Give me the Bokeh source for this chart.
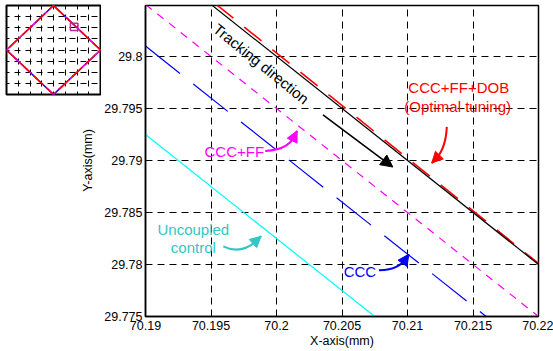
import math
from bokeh.plotting import figure
from bokeh.models import FixedTicker, Label, Arrow, NormalHead, Range1d, Grid
from bokeh.layouts import row, column
from bokeh.embed import file_html
from bokeh.resources import INLINE

# ---------------- data ----------------
x_ticks = [70.19, 70.195, 70.2, 70.205, 70.21, 70.215, 70.22]
x_tick_labels = ["70.19", "70.195", "70.2", "70.205", "70.21", "70.215", "70.22"]
y_ticks = [29.775, 29.78, 29.785, 29.79, 29.795, 29.8]
y_tick_labels = ["29.775", "29.78", "29.785", "29.79", "29.795", "29.8"]

reference_x = [70.195, 70.22]
reference_y = [29.805, 29.78]
dob_x = [70.1954, 70.22]
dob_y = [29.805, 29.7801]
ff_x = [70.19, 70.22]
ff_y = [29.805, 29.775]
ccc_x = [70.19, 70.216]
ccc_y = [29.801, 29.775]
uncoupled_x = [70.19, 70.2075]
uncoupled_y = [29.7925, 29.775]

inset_path_x = [50, 100, 50, 0, 50]
inset_path_y = [100, 50, 0, 50, 100]
inset_box_x = [72]
inset_box_y = [76]
inset_box_size = [8]
inset_ticks = [0, 12.5, 25, 37.5, 50, 62.5, 75, 87.5, 100]

FONT = "Liberation Sans"
RED = "#ff0000"
BLUE = "#0000ff"
MAGENTA = "#ff00ff"
CYAN = "#00ffff"
TEAL = "#33c6c6"

# ---------------- main figure ----------------
p = figure(width=452, height=351,
           x_range=Range1d(70.19, 70.22), y_range=Range1d(29.775, 29.8049),
           output_backend="svg", toolbar_location=None,
           min_border_left=43, min_border_right=15,
           min_border_top=5, min_border_bottom=35)
p.outline_line_color = "black"
p.outline_line_width = 1.5
p.background_fill_color = "white"

p.xaxis.ticker = FixedTicker(ticks=x_ticks)
p.xaxis.major_label_overrides = dict(zip(x_ticks, x_tick_labels))
p.yaxis.ticker = FixedTicker(ticks=y_ticks)
p.yaxis.major_label_overrides = dict(zip(y_ticks, y_tick_labels))
for ax in (p.xaxis, p.yaxis):
    ax.major_tick_in = 4
    ax.major_tick_out = 0
    ax.minor_tick_line_color = None
    ax.axis_line_color = "black"
    ax.axis_line_width = 1.5
    ax.major_tick_line_color = "black"
    ax.major_label_text_font = FONT
    ax.major_label_text_font_size = "12.5px"
    ax.major_label_text_color = "black"
p.xaxis.major_label_standoff = 4
p.yaxis.major_label_standoff = 3
p.xaxis.axis_label = "X-axis(mm)"
p.xaxis.axis_label_text_font = FONT
p.xaxis.axis_label_text_font_size = "12.5px"
p.xaxis.axis_label_text_font_style = "normal"
p.xaxis.axis_label_text_color = "black"
p.xaxis.axis_label_standoff = 1

p.grid.grid_line_color = "black"
p.grid.grid_line_dash = "7 5"
p.grid.grid_line_alpha = 1
p.grid.grid_line_width = 1

p.line(uncoupled_x, uncoupled_y, line_color=CYAN, line_width=1.2)
p.line(ccc_x, ccc_y, line_color=BLUE, line_width=1.2, line_dash="44 17")
p.line(ff_x, ff_y, line_color=MAGENTA, line_width=1.2, line_dash="8 7")
p.line(dob_x, dob_y, line_color=RED, line_width=1.6, line_dash="22 14")
p.line(reference_x, reference_y, line_color="black", line_width=1.2)


def add_label(fig, x, y, text, color, size="15px", angle=0.0):
    fig.add_layout(Label(x=x, y=y, text=text, text_color=color,
                         text_font=FONT, text_font_size=size,
                         text_align="center", text_baseline="middle",
                         angle=angle, angle_units="rad"))


add_label(p, 70.19883, 29.79931, "Tracking direction", "black", angle=-0.68)
add_label(p, 70.21391, 29.79699, "CCC+FF+DOB", RED)
add_label(p, 70.21383, 29.79516, "(Optimal tuning)", RED)
add_label(p, 70.19678, 29.79082, "CCC+FF", MAGENTA)
add_label(p, 70.19365, 29.78339, "Uncoupled", TEAL)
add_label(p, 70.19365, 29.78166, "control", TEAL)
add_label(p, 70.20637, 29.77934, "CCC", BLUE)

# straight tracking-direction arrow
p.add_layout(Arrow(end=NormalHead(size=12, fill_color="black", line_color="black"),
                   x_start=70.20355, y_start=29.79439, x_end=70.20888, y_end=29.78937,
                   line_color="black", line_width=1.6))


def curved_arrow(fig, x0, y0, cx, cy, x1, y1, color):
    fig.quadratic(x0=[x0], y0=[y0], x1=[x1], y1=[y1], cx=[cx], cy=[cy],
                  line_color=color, line_width=2)
    t = 0.75
    hx = (1 - t) ** 2 * x0 + 2 * (1 - t) * t * cx + t ** 2 * x1
    hy = (1 - t) ** 2 * y0 + 2 * (1 - t) * t * cy + t ** 2 * y1
    fig.add_layout(Arrow(end=NormalHead(size=11, fill_color=color, line_color=color),
                         x_start=hx, y_start=hy, x_end=x1, y_end=y1,
                         line_color=color, line_width=2))


curved_arrow(p, 70.21300, 29.79323, 70.21292, 29.79082, 70.21185, 29.78976, RED)
curved_arrow(p, 70.19914, 29.79092, 70.20112, 29.79101, 70.20157, 29.79285, MAGENTA)
curved_arrow(p, 70.19594, 29.78175, 70.19746, 29.78079, 70.19883, 29.78272, TEAL)
curved_arrow(p, 70.20782, 29.77944, 70.20949, 29.77944, 70.21010, 29.78098, BLUE)

# ---------------- inset ----------------
ins = figure(width=101, height=97, x_range=Range1d(0, 100), y_range=Range1d(0, 100),
             x_axis_type=None, y_axis_type=None,
             output_backend="svg", toolbar_location=None,
             min_border_left=6, min_border_right=1, min_border_top=5, min_border_bottom=3)
ins.outline_line_color = "black"
ins.outline_line_width = 2
for dim in (0, 1):
    ins.add_layout(Grid(dimension=dim, ticker=FixedTicker(ticks=inset_ticks),
                        grid_line_color="black", grid_line_dash="6 5",
                        grid_line_dash_offset=3, grid_line_width=1))
ins.line(inset_path_x, inset_path_y, line_color=BLUE, line_width=1.5)
ins.line(inset_path_x, inset_path_y, line_color=MAGENTA, line_width=1.5, line_dash="10 6")
ins.line(inset_path_x, inset_path_y, line_color=RED, line_width=1.5, line_dash="14 4")
ins.rect(x=inset_box_x, y=inset_box_y, width=inset_box_size, height=inset_box_size,
         fill_color=None, line_color="#b0308f", line_width=1.5)

# ---------------- y label panel ----------------
yl = figure(width=101, height=254, x_range=Range1d(0, 1), y_range=Range1d(0, 1),
            x_axis_type=None, y_axis_type=None,
            output_backend="svg", toolbar_location=None, min_border=0)
yl.outline_line_color = None
yl.grid.visible = False
add_label(yl, 0.871, 0.752, "Y-axis(mm)", "black", size="12.5px", angle=math.pi / 2)

layout = row(column(ins, yl), p)
open("out.html", "w").write(file_html(layout, INLINE))
